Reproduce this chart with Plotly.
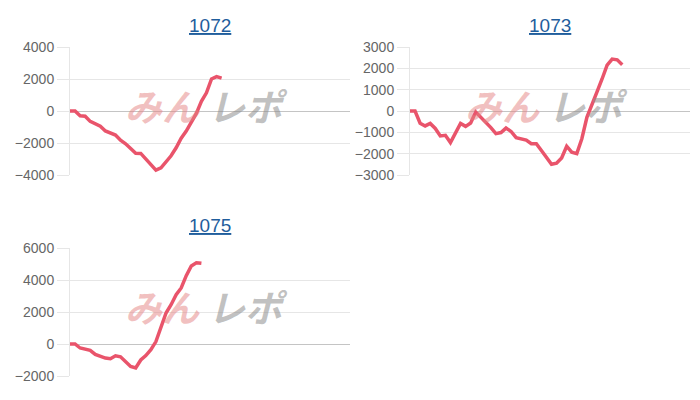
import plotly.graph_objects as go

titles = ["1072", "1073", "1075"]

values_1072 = [0, 0, -300, -323, -650, -800, -950, -1250, -1350, -1500, -1828,
               -2050, -2350, -2645, -2650, -3000, -3300, -3700, -3550, -3150,
               -2800, -2300, -1700, -1250, -700, -150, 600, 1140, 2000, 2150, 2050]

values_1073 = [0, 0, -570, -700, -581, -816, -1170, -1140, -1480, -1051, -580,
               -720, -560, -50, -280, -540, -780, -1060, -1010, -800, -960,
               -1250, -1290, -1360, -1530, -1530, -1850, -2150, -2500, -2450,
               -2200, -1650, -1930, -2000, -1300, -300, 260, 900, 1500, 2150,
               2434, 2400, 2167]

values_1075 = [0, 0, -250, -312, -395, -650, -750, -880, -920, -740, -800,
               -1100, -1400, -1500, -1000, -720, -350, 150, 1050, 1936, 2456,
               3080, 3500, 4270, 4880, 5080, 5040]

series = [values_1072, values_1073, values_1075]
y_ranges = [[-4000, 4000], [-3000, 3000], [-2000, 6000]]
y_dticks = [2000, 1000, 2000]

W, H = 700, 400
boxes = [(70, 350, 47, 175), (410, 690, 47, 175), (70, 350, 248, 376)]
X_MAX = 55.4

LINE_COLOR = "#e9546b"
TICK_COLOR = "#666666"
GRID_COLOR = "#e6e6e6"
ZERO_COLOR = "#c4c4c4"
TITLE_COLOR = "#1f5d9c"
FONT = "Liberation Sans, Arial, sans-serif"

fig = go.Figure()
annotations = []

for i, (vals, title, yr, dt, box) in enumerate(zip(series, titles, y_ranges, y_dticks, boxes)):
    n = i + 1
    xs = list(range(len(vals)))
    fig.add_trace(go.Scatter(
        x=xs, y=vals, mode="lines",
        line=dict(color=LINE_COLOR, width=3.5),
        xaxis=f"x{n}", yaxis=f"y{n}", showlegend=False, hoverinfo="skip",
    ))
    l, r, t, b = box
    xd = [l / W, r / W]
    yd = [1 - b / H, 1 - t / H]
    fig.layout[f"xaxis{n}"] = dict(
        domain=xd, range=[0, X_MAX], showgrid=False, zeroline=False,
        showticklabels=False, showline=False, ticks="", fixedrange=True,
        anchor=f"y{n}", automargin=False,
    )
    fig.layout[f"yaxis{n}"] = dict(
        domain=yd, range=yr, dtick=dt, tick0=0, showgrid=True,
        gridcolor=GRID_COLOR, gridwidth=1, zeroline=True, zerolinecolor=ZERO_COLOR,
        zerolinewidth=1, showline=True, linecolor=GRID_COLOR, linewidth=1,
        ticks="outside", ticklen=12, tickcolor=GRID_COLOR, tickwidth=1,
        tickfont=dict(family=FONT, size=14, color=TICK_COLOR),
        anchor=f"x{n}", fixedrange=True, automargin=False,
    )
    cx = (xd[0] + xd[1]) / 2
    annotations.append(dict(
        text=f"<u>{title}</u>", x=cx, y=1 - (t - 22) / H, xref="paper", yref="paper",
        xanchor="center", yanchor="middle", showarrow=False,
        font=dict(family=FONT, size=19, color=TITLE_COLOR),
    ))
    wy = 1 - (t + 58) / H
    annotations.append(dict(
        text="<b><i>みん</i></b>", x=cx - 0.012, y=wy, xref="paper", yref="paper",
        xanchor="right", yanchor="middle", showarrow=False,
        font=dict(family="Noto Sans CJK JP", size=37,
                  color="rgba(228,130,130,0.5)"),
    ))
    annotations.append(dict(
        text="<b><i>レポ</i></b>", x=cx - 0.006, y=wy, xref="paper", yref="paper",
        xanchor="left", yanchor="middle", showarrow=False,
        font=dict(family="Noto Sans CJK JP", size=37,
                  color="rgba(140,140,140,0.55)"),
    ))

fig.update_layout(
    width=W, height=H, autosize=False, margin=dict(l=0, r=0, t=0, b=0, pad=0),
    paper_bgcolor="white", plot_bgcolor="white",
    annotations=annotations, showlegend=False,
)

fig.write_html(
    "out.html",
    config={"responsive": False, "displayModeBar": False, "staticPlot": True},
    post_script="document.body.style.margin='0';document.body.style.overflow='hidden';",
)
